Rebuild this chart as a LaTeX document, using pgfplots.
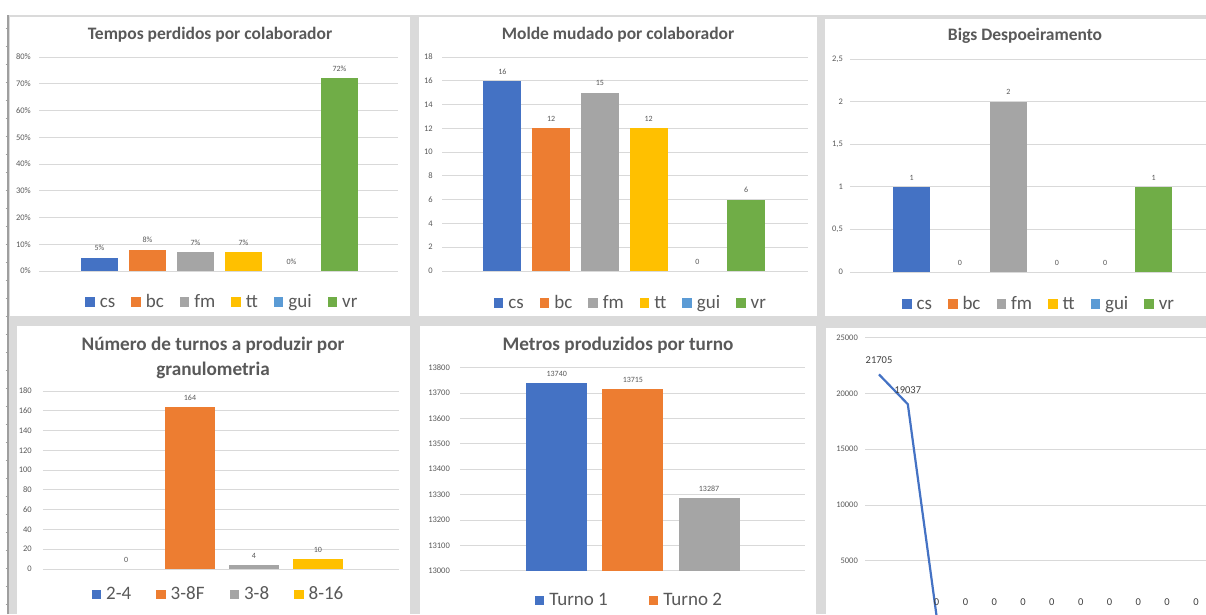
\documentclass[border=0pt]{standalone}
\usepackage{pgfplots}
\pgfplotsset{compat=1.18}
\usepackage{fontspec}
\setmainfont{Carlito}

\definecolor{cblue}{HTML}{4472C4}
\definecolor{corange}{HTML}{ED7D31}
\definecolor{cgray}{HTML}{A5A5A5}
\definecolor{cgold}{HTML}{FFC000}
\definecolor{clblue}{HTML}{5B9BD5}
\definecolor{cgreen}{HTML}{70AD47}
\definecolor{labelgray}{HTML}{595959}
\definecolor{gridgray}{HTML}{D9D9D9}
\definecolor{bggray}{HTML}{DADADA}

\pgfplotsset{
  panel/.style={
    scale only axis, anchor=south west, enlargelimits=false,
    axis line style={draw=none}, xtick=\empty, ytick style={draw=none},
    ymajorgrids, major grid style={gridgray, line width=0.9pt},
    scaled y ticks=false,
    /pgf/number format/assume math mode=true,
    yticklabel style={font=\fontsize{8.5}{9}\selectfont, text=labelgray, anchor=east, inner sep=0pt},
  },
  bars/.style={
    panel,
    every axis plot/.append style={ybar, bar shift=0pt, draw=none},
    nodes near coords,
    every node near coord/.append style={font=\fontsize{8}{9}\selectfont, text=labelgray, anchor=south, inner sep=0pt, yshift=6.5pt},
    legend columns=-1,
    legend image code/.code={\fill[##1] (0pt,-4.75pt) rectangle (9.5pt,4.75pt);},
    legend style={draw=none, fill=none, font=\fontsize{19}{19}\selectfont, text=labelgray, anchor=center,
      nodes={inner sep=2pt},
      /tikz/every odd column/.append style={column sep=3pt},
      /tikz/every even column/.append style={column sep=14pt, text height=12pt, text depth=3.2pt}},
  },
  % a bar of height zero: nothing is painted, but its label and legend key stay
  zero/.style={fill opacity=0, legend image post style={fill opacity=1},
    every node near coord/.append style={text opacity=1}},
}

\begin{document}
\begin{tikzpicture}
\useasboundingbox (0pt,0pt) rectangle (1206pt,614pt);
\clip (0pt,0pt) rectangle (1206pt,614pt);

% dashboard frame and chart areas
\fill[white] (0pt,0pt) rectangle (1206pt,614pt);
\fill[bggray] (7pt,0pt) rectangle (1206pt,599pt);
\draw[gray!75, line width=1.2pt] (8pt,0pt) -- (8pt,599pt);
\foreach \yy in {586,568,550,532,514,496,478,460,442,424,406,388,370,352,334,316,298,280,262,244,226,208,190,172,154,136,118,100,82,64,46,28,10}
  \draw[gray!75, line width=0.8pt] (5.5pt,\yy pt) -- (8pt,\yy pt);
\fill[white] (10pt,298pt) rectangle (410pt,597pt);
\fill[white] (419pt,298pt) rectangle (817pt,597pt);
\fill[white] (825pt,298pt) rectangle (1206pt,595pt);
\fill[white] (17pt,0pt) rectangle (410pt,288pt);
\fill[white] (420pt,0pt) rectangle (816pt,288pt);
\fill[white] (826pt,0pt) rectangle (1206pt,286pt);

% titles
\node[font=\fontsize{17.5}{20}\selectfont\bfseries, text=labelgray] at (210pt,579pt) {Tempos perdidos por colaborador};
\node[font=\fontsize{17.5}{20}\selectfont\bfseries, text=labelgray] at (618pt,579pt) {Molde mudado por colaborador};
\node[font=\fontsize{17.5}{20}\selectfont\bfseries, text=labelgray] at (1025pt,578pt) {Bigs Despoeiramento};
\node[font=\fontsize{19.2}{20}\selectfont\bfseries, text=labelgray] at (213pt,269pt) {Número de turnos a produzir por};
\node[font=\fontsize{19.2}{20}\selectfont\bfseries, text=labelgray] at (213pt,244pt) {granulometria};
\node[font=\fontsize{19.2}{20}\selectfont\bfseries, text=labelgray] at (618pt,269pt) {Metros produzidos por turno};

% Tempos perdidos por colaborador
\begin{axis}[bars, at={(39pt,343pt)}, width=359pt, height=214pt,
  xmin=-1.26, xmax=6.22, ymin=0, ymax=80, ytick={0,10,...,80}, bar width=37.5pt,
  yticklabel={\pgfmathprintnumber{\tick}\%}, yticklabel style={xshift=-8pt},
  nodes near coords={\pgfmathprintnumber{\pgfplotspointmeta}\%},
  legend style={at={(0.511,-0.146)}}]
\addplot[fill=cblue] coordinates {(0,5)};
\addplot[fill=corange] coordinates {(1,8)};
\addplot[fill=cgray] coordinates {(2,7)};
\addplot[fill=cgold] coordinates {(3,7)};
\addplot[fill=clblue, zero] coordinates {(4,0)};
\addplot[fill=cgreen] coordinates {(5,72)};
\legend{cs,bc,fm,tt,gui,vr}
\end{axis}

% Molde mudado por colaborador
\begin{axis}[bars, at={(442pt,343pt)}, width=366pt, height=214pt,
  xmin=-1.24, xmax=6.27, ymin=0, ymax=18, ytick={0,2,...,18}, bar width=38pt,
  yticklabel style={xshift=-9pt},
  legend style={at={(0.516,-0.149)}}]
\addplot[fill=cblue] coordinates {(0,16)};
\addplot[fill=corange] coordinates {(1,12)};
\addplot[fill=cgray] coordinates {(2,15)};
\addplot[fill=cgold] coordinates {(3,12)};
\addplot[fill=clblue, zero] coordinates {(4,0)};
\addplot[fill=cgreen] coordinates {(5,6)};
\legend{cs,bc,fm,tt,gui,vr}
\end{axis}

% Bigs Despoeiramento
\begin{axis}[bars, at={(850pt,342pt)}, width=356pt, height=213pt,
  xmin=-1.27, xmax=6.08, ymin=0, ymax=2.5, ytick={0,0.5,1,1.5,2,2.5}, bar width=37.5pt,
  /pgf/number format/use comma,
  yticklabel style={xshift=-7pt},
  legend style={at={(0.531,-0.150)}}]
\addplot[fill=cblue] coordinates {(0,1)};
\addplot[fill=corange, zero] coordinates {(1,0)};
\addplot[fill=cgray] coordinates {(2,2)};
\addplot[fill=cgold, zero] coordinates {(3,0)};
\addplot[fill=clblue, zero] coordinates {(4,0)};
\addplot[fill=cgreen] coordinates {(5,1)};
\legend{cs,bc,fm,tt,gui,vr}
\end{axis}

% Numero de turnos a produzir por granulometria
\begin{axis}[bars, at={(43pt,45pt)}, width=356pt, height=178pt,
  xmin=-1.3, xmax=4.27, ymin=0, ymax=180, ytick={0,20,...,180}, bar width=50pt,
  yticklabel style={xshift=-11pt},
  legend style={at={(0.493,-0.142)}, /tikz/every even column/.append style={column sep=23pt}}]
\addplot[fill=cblue, zero] coordinates {(0,0)};
\addplot[fill=corange] coordinates {(1,164)};
\addplot[fill=cgray] coordinates {(2,4)};
\addplot[fill=cgold] coordinates {(3,10)};
\legend{2-4,3-8F,3-8,8-16}
\end{axis}

% Metros produzidos por turno
\begin{axis}[bars, at={(460pt,43.3pt)}, width=345pt, height=203pt,
  xmin=-1.27, xmax=3.26, ymin=13000, ymax=13800, ytick={13000,13100,...,13800}, bar width=61pt,
  /pgf/number format/1000 sep={},
  yticklabel style={xshift=-10pt},
  legend style={at={(0.491,-0.147)}, /tikz/every even column/.append style={column sep=39pt}}]
\addplot[fill=cblue] coordinates {(0,13740)};
\addplot[fill=corange] coordinates {(1,13715)};
\addplot[fill=cgray] coordinates {(2,13287)};
\legend{Turno 1,Turno 2}
\end{axis}

% line chart
\begin{axis}[panel, at={(865pt,-2.5pt)}, width=341pt, height=278.8pt,
  xmin=-0.486, xmax=11.35, ymin=0, ymax=25000, ytick={5000,10000,...,25000},
  /pgf/number format/1000 sep={},
  yticklabel style={xshift=-7pt}]
\addplot[color=cblue, line width=2.2pt, mark=none,
  nodes near coords,
  every node near coord/.append style={font=\fontsize{10.5}{11}\selectfont, text=black!75, anchor=south, inner sep=0pt, yshift=10pt}]
  coordinates {(0,21705) (1,19037) (2,0) (3,0) (4,0) (5,0) (6,0) (7,0) (8,0) (9,0) (10,0) (11,0)};
\end{axis}
\end{tikzpicture}
\end{document}
